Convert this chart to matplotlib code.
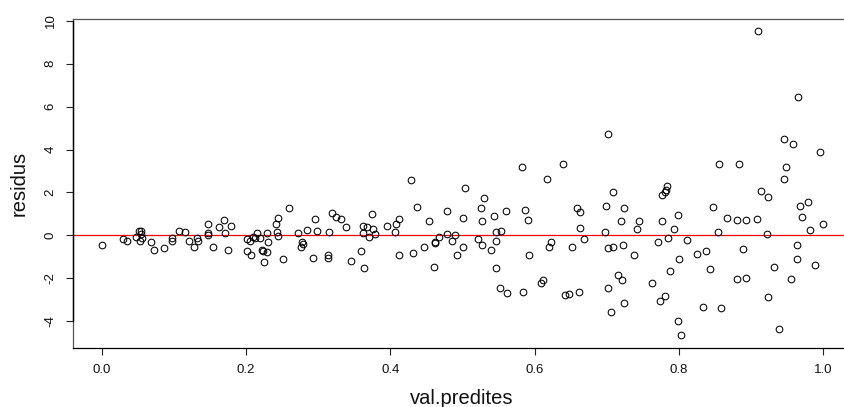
import matplotlib
matplotlib.use("Agg")
import matplotlib.pyplot as plt
import numpy as np

plt.rcParams['font.family'] = ['Liberation Sans', 'DejaVu Sans']

val_predites = [
    0.000, 0.030, 0.035, 0.048, 0.052, 0.054, 0.054, 0.053, 0.056, 0.068,
    0.072, 0.087, 0.097, 0.098, 0.107, 0.115, 0.121, 0.128, 0.132, 0.133,
    0.147, 0.147, 0.148, 0.154,
    0.163, 0.169, 0.171, 0.175, 0.179, 0.202, 0.202, 0.206, 0.207, 0.210,
    0.212, 0.215, 0.219, 0.222, 0.224, 0.225, 0.229, 0.231, 0.229, 0.242,
    0.245, 0.243, 0.244, 0.251, 0.259, 0.272, 0.276, 0.278, 0.279, 0.284,
    0.293, 0.296, 0.299, 0.314, 0.314, 0.315, 0.319, 0.325, 0.332,
    0.339, 0.346, 0.359, 0.363, 0.362, 0.362, 0.368, 0.370, 0.374, 0.376,
    0.379, 0.395, 0.406, 0.408, 0.412, 0.412, 0.429, 0.431, 0.437, 0.446,
    0.453, 0.460, 0.462, 0.462, 0.467, 0.478, 0.479, 0.486, 0.490, 0.493,
    0.500, 0.501, 0.503,
    0.522, 0.526, 0.527, 0.527, 0.530, 0.539, 0.543, 0.546, 0.547, 0.547,
    0.553, 0.552, 0.560, 0.562, 0.583, 0.584, 0.587, 0.591, 0.592, 0.609,
    0.612, 0.617, 0.620, 0.623, 0.639, 0.642, 0.648, 0.652, 0.658, 0.661,
    0.663, 0.663, 0.668,
    0.702, 0.708, 0.699, 0.698, 0.701, 0.709, 0.701, 0.706, 0.720, 0.724,
    0.722, 0.716, 0.721, 0.724, 0.737, 0.742, 0.745, 0.762, 0.771, 0.774,
    0.777, 0.781, 0.777, 0.780, 0.782, 0.783, 0.785, 0.787, 0.793, 0.799,
    0.800, 0.798, 0.803, 0.811, 0.825, 0.838, 0.843, 0.833, 0.847,
    0.910, 0.965, 0.946, 0.958, 0.996, 0.855, 0.883, 0.948, 0.945, 0.914,
    0.924, 0.979, 0.967, 0.971, 0.867, 0.881, 0.893, 0.908, 0.999, 0.982,
    0.854, 0.922, 0.888, 0.964, 0.964, 0.931, 0.988, 0.880, 0.893, 0.955,
    0.924, 0.858, 0.938,
]

residus = [
    -0.47, -0.16, -0.27, -0.08, 0.22, 0.18, 0.05, -0.27, -0.12, -0.30,
    -0.69, -0.59, -0.14, -0.27, 0.20, 0.15, -0.25, -0.56, -0.11, -0.25,
    0.51, 0.12, 0.00, -0.56,
    0.37, 0.71, 0.09, -0.69, 0.43, -0.16, -0.72, -0.25, -0.92, -0.06,
    -0.14, 0.12, -0.11, -0.69, -0.73, -1.23, 0.12, -0.30, -0.78, 0.51,
    0.82, 0.17, -0.03, -1.09, 1.29, 0.09, -0.53, -0.30, -0.40, 0.25,
    -1.04, 0.75, 0.21, -0.93, -1.05, 0.14, 1.03, 0.87, 0.76,
    0.39, -1.21, -0.73, -1.51, 0.43, 0.09, 0.37, -0.06, 0.98, 0.29,
    0.05, 0.45, 0.17, 0.54, 0.75, -0.93, 2.57, -0.84, 1.31, -0.56,
    0.67, -1.47, -0.30, -0.38, -0.09, 0.06, 1.12, -0.25, 0.00, -0.92,
    -0.56, 0.79, 2.19,
    -0.17, 1.26, 0.67, -0.44, 1.73, -0.69, 0.90, -1.54, 0.14, -0.25,
    0.19, -2.47, 1.12, -2.69, 3.19, -2.66, 1.20, 0.73, -0.90, -2.24,
    -2.09, 2.64, -0.53, -0.30, 3.34, -2.79, -2.74, -0.55, 1.29, -2.63,
    1.07, 0.34, -0.16,
    4.73, 2.01, 1.37, 0.17, -0.58, -0.53, -2.47, -3.58, 0.65, 1.29,
    -0.47, -1.84, -2.10, -3.14, -0.92, 0.28, 0.65, -2.23, -0.31, -3.05,
    0.67, -2.82, 1.88, 2.01, 2.11, 2.29, -0.11, -1.65, 0.28, 0.93,
    -1.12, -3.98, -4.67, -0.22, -0.86, -0.72, -1.56, -3.35, 1.31,
    9.53, 6.45, 4.49, 4.28, 3.87, 3.33, 3.31, 3.20, 2.61, 2.07,
    1.79, 1.57, 1.35, 0.87, 0.81, 0.71, 0.71, 0.78, 0.51, 0.23,
    0.15, 0.05, -0.65, -0.45, -1.09, -1.46, -1.37, -2.04, -2.01, -2.05,
    -2.86, -3.39, -4.39,
]

x_ticks = [0.0, 0.2, 0.4, 0.6, 0.8, 1.0]
x_tick_labels = ["0.0", "0.2", "0.4", "0.6", "0.8", "1.0"]
y_ticks = [-4, -2, 0, 2, 4, 6, 8, 10]
y_tick_labels = ["-4", "-2", "0", "2", "4", "6", "8", "10"]

W, H = 844, 407
fig = plt.figure(figsize=(W / 100, H / 100), dpi=100)
fig.patch.set_facecolor("white")

left_px, right_px, top_px, bottom_px = 72.8, 852.2, 19.0, 348.0
ax = fig.add_axes([left_px / W, 1 - bottom_px / H,
                   (right_px - left_px) / W, (bottom_px - top_px) / H])
ax.set_xlim(-0.04, 1.04)
ax.set_ylim(-5.26, 10.09)

ax.plot(val_predites, residus, linestyle="none", marker="o", ms=4.8,
        mfc="none", mec="black", mew=0.75, zorder=3)
ax.axhline(0, color="red", lw=0.9, zorder=2)

for s in ["top", "left", "right"]:
    ax.spines[s].set_color("#555555")
    ax.spines[s].set_linewidth(0.9)
ax.spines["bottom"].set_color("black")
ax.spines["bottom"].set_linewidth(0.9)
# axis line spanning the y ticks (drawn darker as in R)
ax.plot([-0.04, -0.04], [y_ticks[0], y_ticks[-1]], color="black", lw=1.0,
        clip_on=False, zorder=4)

ax.set_xticks(x_ticks)
ax.set_xticklabels(x_tick_labels)
ax.set_yticks(y_ticks)
ax.set_yticklabels(y_tick_labels, rotation=90, va="center")
ax.tick_params(axis="both", direction="out", length=5.2, width=0.8,
               color="#222222", labelsize=9.5, labelcolor="#111111")
ax.tick_params(axis="x", pad=6.5)
ax.tick_params(axis="y", pad=6.5)

fig.text(461.5 / W, 1 - 398 / H, "val.predites", ha="center", va="center",
         fontsize=14.5, color="#111111")
fig.text(19 / W, 1 - 183 / H, "residus", ha="center", va="center",
         rotation=90, fontsize=14.5, color="#111111")

fig.savefig("out.png", dpi=100, facecolor="white")
